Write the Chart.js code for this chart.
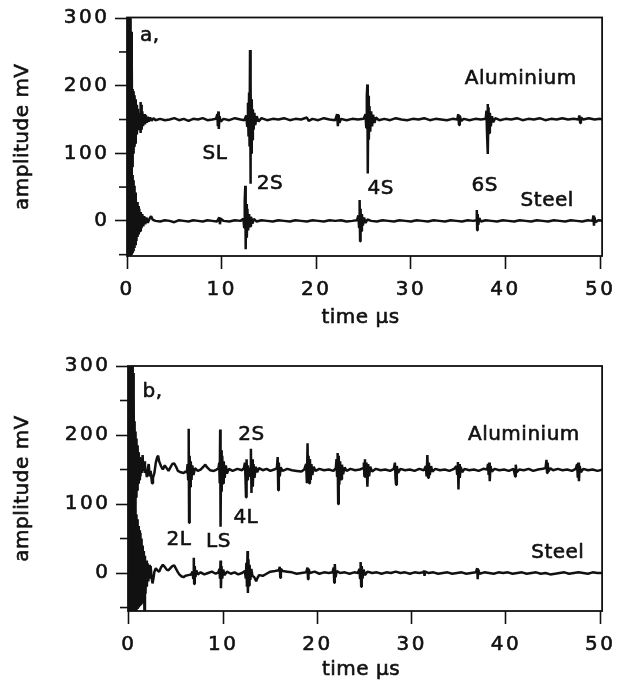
<!DOCTYPE html>
<html>
<head>
<meta charset="utf-8">
<script src="https://cdn.jsdelivr.net/npm/chart.js@4.4.1/dist/chart.umd.min.js"></script>
<style>
  body { margin: 0; background: #fff; }
  #wrap { position: relative; width: 622px; height: 689px; }
  canvas { position: absolute; left: 0; }
</style>
</head>
<body>
<div id="wrap">
  <canvas id="chartA" width="622" height="330" style="top:0"></canvas>
  <canvas id="chartB" width="622" height="359" style="top:330px"></canvas>
</div>
<script>
// [time µs, amplitude mV]
// panel a
const alA = [[0,150],[0.04,320],[0.08,-60],[0.12,330],[0.16,-60],[0.2,320],[0.24,-55],[0.28,310],[0.32,-30],[0.36,300],[0.4,10],[0.44,280],[0.48,50],[0.52,240],[0.56,80],[0.6,195],[0.65,100],[0.7,192],[0.75,110],[0.8,186],[0.85,115],[0.9,180],[0.95,122],[1.0,172],[1.05,128],[1.1,166],[1.15,134],[1.2,160],[1.25,140],[1.3,158],[1.38,142],[1.42,176],[1.46,130],[1.5,172],[1.55,135],[1.62,162],[1.7,140],[1.8,158],[1.9,143],[2.0,156],[2.1,145],[2.2,154],[2.3,147],[2.45,153],[2.6,148],[2.8,152],[3.0,149],[3.5,151],[4.0,149],[4.5,150],[5.0,152],[5.5,149],[6.0,151],[6.5,148],[7.0,151],[7.5,150],[8.0,152],[8.5,149],[9.0,150],[9.4,151],[9.55,158],[9.6,140],[9.65,162],[9.7,136],[9.78,155],[9.9,147],[10.2,151],[10.8,149],[11.4,152],[12.0,150],[12.4,149],[12.6,156],[12.7,140],[12.78,175],[12.84,125],[12.9,190],[12.95,110],[13.0,253],[13.04,55],[13.08,200],[13.12,100],[13.18,180],[13.24,120],[13.3,165],[13.38,135],[13.46,160],[13.55,142],[13.7,155],[13.9,147],[14.2,152],[14.8,149],[15.4,151],[16.0,150],[16.6,152],[17.2,149],[17.8,151],[18.4,150],[19.0,153],[19.2,148],[19.6,151],[20.2,149],[20.8,152],[21.4,150],[22.0,149],[22.2,158],[22.28,140],[22.36,157],[22.45,145],[22.6,151],[23.2,149],[23.8,151],[24.4,150],[25.0,151],[25.2,158],[25.28,138],[25.34,185],[25.4,202],[25.44,70],[25.5,185],[25.55,120],[25.62,170],[25.7,132],[25.8,162],[25.9,140],[26.0,157],[26.15,145],[26.3,153],[26.6,149],[27.2,151],[27.8,149],[28.4,152],[29.0,150],[29.6,149],[30.2,151],[30.8,150],[31.4,152],[32.0,149],[32.6,151],[33.2,150],[33.8,149],[34.4,151],[34.9,150],[35.0,158],[35.08,142],[35.16,156],[35.3,148],[35.6,151],[36.2,149],[36.8,151],[37.4,150],[37.9,151],[37.98,163],[38.04,130],[38.1,173],[38.14,99],[38.2,168],[38.26,130],[38.34,160],[38.44,140],[38.56,155],[38.7,146],[38.9,152],[39.4,149],[40.0,151],[40.6,150],[41.2,152],[41.8,149],[42.4,151],[43.0,150],[43.6,152],[44.2,149],[44.8,151],[45.4,150],[46.0,152],[46.6,150],[47.2,151],[47.7,150],[47.8,156],[47.88,145],[47.96,153],[48.2,150],[48.8,152],[49.4,150],[50.0,151],[50.3,150]];
const stA = [[0,0],[0.02,-60],[0.06,320],[0.1,-60],[0.14,300],[0.18,-60],[0.22,250],[0.26,-60],[0.3,160],[0.34,-60],[0.38,90],[0.42,-55],[0.46,75],[0.5,-50],[0.55,68],[0.6,-48],[0.65,60],[0.7,-45],[0.75,52],[0.8,-40],[0.85,42],[0.9,-36],[0.95,35],[1.0,-30],[1.06,28],[1.12,-24],[1.18,22],[1.24,-20],[1.3,18],[1.38,-15],[1.46,13],[1.54,-11],[1.62,10],[1.72,-8],[1.82,7],[1.92,-5],[2.05,5],[2.2,-3],[2.4,4],[2.55,7],[2.7,2],[3.0,0],[3.5,-1],[4.0,1],[4.5,0],[5.0,-2],[5.5,1],[6.0,0],[6.5,-1],[7.0,1],[7.5,0],[8.0,-1],[8.5,1],[9.0,0],[9.5,-1],[9.75,5],[9.82,-5],[9.9,3],[10.2,0],[10.8,-1],[11.4,1],[12.0,0],[12.3,3],[12.38,-10],[12.44,30],[12.5,52],[12.54,-42],[12.6,25],[12.66,-25],[12.72,18],[12.8,-14],[12.9,10],[13.0,-8],[13.1,6],[13.25,-4],[13.4,3],[13.7,-1],[14.2,1],[14.8,0],[15.4,-1],[16.0,1],[16.6,0],[17.2,-1],[17.8,1],[18.4,0],[19.0,-1],[19.6,1],[20.2,0],[20.8,-1],[21.4,1],[22.0,0],[22.6,1],[23.2,-1],[23.8,0],[24.3,1],[24.45,8],[24.52,-10],[24.58,31],[24.63,-30],[24.68,18],[24.74,-15],[24.82,10],[24.92,-7],[25.05,5],[25.2,-3],[25.4,2],[25.8,0],[26.4,-1],[27.0,1],[27.6,0],[28.2,-1],[28.8,1],[29.4,0],[30.0,-1],[30.6,1],[31.2,0],[31.8,-1],[32.4,1],[33.0,0],[33.6,-1],[34.2,1],[34.8,0],[35.4,-1],[36.0,1],[36.6,0],[36.9,1],[36.96,16],[37.0,-14],[37.05,10],[37.12,-6],[37.22,4],[37.4,-1],[37.9,1],[38.5,0],[39.1,-1],[39.7,1],[40.3,0],[40.9,-1],[41.5,1],[42.1,0],[42.7,-1],[43.3,1],[43.9,0],[44.5,-1],[45.1,1],[45.7,0],[46.3,-1],[46.9,1],[47.5,0],[48.1,-1],[48.7,1],[49.2,0],[49.28,8],[49.34,-7],[49.4,5],[49.5,-2],[49.8,1],[50.3,0]];
// panel b
const alB = [[0,150],[0.04,320],[0.08,-60],[0.12,330],[0.16,-60],[0.2,320],[0.24,-60],[0.28,320],[0.32,-40],[0.36,310],[0.4,0],[0.44,290],[0.48,40],[0.52,260],[0.56,70],[0.6,220],[0.65,90],[0.7,205],[0.75,110],[0.8,195],[0.86,120],[0.92,185],[0.98,130],[1.04,175],[1.1,135],[1.16,168],[1.22,140],[1.3,162],[1.38,145],[1.45,171],[1.52,148],[1.6,162],[1.7,145],[1.8,150],[1.9,139],[2.0,152],[2.1,158],[2.2,140],[2.3,148],[2.45,130],[2.55,138],[2.7,145],[2.85,160],[3.0,168],[3.1,170],[3.2,162],[3.4,155],[3.6,150],[3.8,156],[4.0,152],[4.2,148],[4.4,153],[4.6,158],[4.8,159],[5.0,154],[5.2,148],[5.5,146],[5.8,145],[6.0,147],[6.15,146],[6.22,158],[6.28,135],[6.34,209],[6.38,73],[6.44,170],[6.5,125],[6.56,162],[6.64,135],[6.72,156],[6.85,142],[7.0,152],[7.3,148],[7.6,150],[7.9,154],[8.1,157],[8.3,153],[8.6,149],[9.0,148],[9.3,150],[9.5,152],[9.58,160],[9.63,130],[9.68,208],[9.72,67],[9.78,178],[9.84,118],[9.9,170],[9.98,130],[10.06,162],[10.16,138],[10.28,156],[10.4,144],[10.6,151],[11.0,148],[11.5,151],[12.0,149],[12.2,152],[12.3,160],[12.36,140],[12.42,110],[12.48,165],[12.55,135],[12.62,156],[12.7,145],[12.8,152],[12.88,140],[12.94,180],[13.0,116],[13.06,165],[13.14,125],[13.22,158],[13.32,138],[13.45,154],[13.6,146],[13.8,152],[14.2,149],[14.6,151],[15.0,148],[15.4,150],[15.7,152],[15.78,168],[15.84,120],[15.9,160],[16.0,140],[16.1,153],[16.3,148],[16.8,151],[17.3,149],[17.8,148],[18.3,147],[18.6,150],[18.8,158],[18.88,130],[18.95,188],[19.0,132],[19.06,170],[19.12,130],[19.2,165],[19.28,135],[19.36,158],[19.46,142],[19.6,154],[19.8,148],[20.2,151],[20.7,149],[21.2,150],[21.7,148],[21.95,152],[22.02,165],[22.08,140],[22.14,174],[22.2,100],[22.26,170],[22.32,128],[22.4,162],[22.5,136],[22.6,157],[22.72,143],[22.88,153],[23.1,148],[23.5,151],[24.0,149],[24.5,150],[24.85,152],[24.92,160],[24.98,140],[25.04,165],[25.1,138],[25.2,160],[25.3,125],[25.38,158],[25.48,140],[25.6,154],[25.8,147],[26.2,151],[26.7,149],[27.2,150],[27.7,148],[28.1,151],[28.22,160],[28.28,138],[28.34,128],[28.42,155],[28.55,145],[28.8,151],[29.3,149],[29.8,150],[30.3,148],[30.8,151],[31.3,149],[31.5,155],[31.58,140],[31.66,171],[31.74,138],[31.82,160],[31.92,142],[32.05,155],[32.2,147],[32.5,151],[33.0,149],[33.5,150],[34.0,148],[34.5,151],[34.75,155],[34.82,143],[34.9,161],[34.96,121],[35.02,158],[35.1,138],[35.2,154],[35.35,146],[35.6,151],[36.1,149],[36.6,150],[37.1,148],[37.6,151],[38.0,150],[38.1,158],[38.16,142],[38.22,160],[38.28,133],[38.36,155],[38.5,147],[38.8,151],[39.3,149],[39.8,150],[40.3,148],[40.8,151],[40.98,140],[41.04,157],[41.12,146],[41.4,150],[41.9,149],[42.4,151],[42.9,148],[43.4,150],[43.9,151],[44.2,152],[44.3,164],[44.36,145],[44.42,160],[44.5,147],[44.7,152],[45.0,149],[45.5,151],[46.0,149],[46.5,150],[47.0,148],[47.4,151],[47.55,158],[47.62,138],[47.68,160],[47.74,133],[47.82,155],[47.95,146],[48.2,151],[48.7,149],[49.2,150],[49.7,148],[50.3,150]];
const stB = [[0,0],[0.02,-60],[0.06,320],[0.1,-60],[0.14,320],[0.18,-60],[0.22,300],[0.26,-60],[0.3,220],[0.34,-60],[0.38,150],[0.42,-60],[0.46,110],[0.5,-60],[0.55,95],[0.6,-58],[0.65,90],[0.7,-55],[0.75,85],[0.8,-55],[0.86,78],[0.92,-52],[0.98,68],[1.04,-50],[1.1,62],[1.16,-48],[1.22,58],[1.28,-45],[1.34,50],[1.4,-42],[1.46,40],[1.52,-38],[1.58,32],[1.64,-55],[1.7,25],[1.76,-30],[1.82,18],[1.9,-20],[1.98,14],[2.06,-12],[2.14,12],[2.22,-8],[2.3,10],[2.4,-6],[2.5,-15],[2.6,-8],[2.7,2],[2.85,7],[3.0,4],[3.2,2],[3.4,8],[3.6,12],[3.8,9],[4.0,5],[4.2,4],[4.4,7],[4.6,10],[4.8,11],[5.0,6],[5.2,1],[5.4,-3],[5.6,-5],[5.8,-6],[6.0,-4],[6.3,-3],[6.6,-2],[6.75,2],[6.82,-8],[6.88,22],[6.92,-16],[6.98,10],[7.06,-6],[7.15,4],[7.3,-2],[7.6,1],[8.0,-2],[8.4,0],[8.8,2],[9.2,-1],[9.5,1],[9.6,6],[9.66,-8],[9.72,18],[9.76,-22],[9.82,10],[9.9,-8],[10.0,5],[10.15,-3],[10.4,2],[10.8,-1],[11.2,1],[11.6,-2],[12.0,0],[12.3,3],[12.4,-8],[12.46,15],[12.52,-20],[12.58,32],[12.62,-29],[12.68,20],[12.74,-18],[12.8,12],[12.88,-10],[12.98,6],[13.1,-4],[13.3,-6],[13.5,-12],[13.6,-8],[13.8,-3],[14.2,-4],[14.6,-1],[15.0,2],[15.5,3],[15.9,4],[16.0,9],[16.06,-7],[16.12,6],[16.3,3],[16.8,2],[17.3,1],[17.8,-1],[18.3,0],[18.8,1],[18.95,8],[19.0,-9],[19.05,6],[19.2,0],[19.7,2],[20.2,-1],[20.7,1],[21.2,0],[21.6,1],[21.72,8],[21.78,-14],[21.84,13],[21.92,-6],[22.05,3],[22.4,0],[22.9,1],[23.4,-1],[23.9,1],[24.3,0],[24.45,6],[24.52,-8],[24.58,16],[24.64,-20],[24.7,10],[24.78,-8],[24.9,5],[25.05,-3],[25.3,2],[25.8,0],[26.3,1],[26.8,-1],[27.3,1],[27.8,0],[28.3,2],[28.8,0],[29.3,1],[29.8,-1],[30.3,1],[30.8,0],[31.2,1],[31.3,4],[31.36,-4],[31.44,2],[31.8,0],[32.3,1],[32.8,-1],[33.3,0],[33.8,1],[34.3,-1],[34.8,0],[35.3,1],[35.8,-1],[36.3,0],[36.8,1],[36.95,7],[37.0,-9],[37.06,5],[37.2,-1],[37.7,1],[38.2,0],[38.7,-1],[39.2,1],[39.7,0],[40.2,1],[40.7,-1],[41.2,0],[41.7,1],[42.2,-1],[42.7,0],[43.2,1],[43.7,-1],[44.2,0],[44.7,-2],[45.2,-1],[45.7,0],[46.2,1],[46.7,-1],[47.2,0],[47.7,1],[48.2,0],[48.7,-1],[49.2,1],[49.7,0],[50.3,0]];

const xTicks = [0, 10, 20, 30, 40, 50];
const yMajor = [0, 100, 200, 300];
const yMinor = [-50, 50, 150, 250];

// [text, time, amplitude]
const notesA = [["a,", 2.4, 274], ["SL", 9.3, 99], ["2S", 15.1, 55], ["4S", 26.8, 48], ["6S", 37.8, 52], ["Aluminium", 41.6, 210], ["Steel", 44.4, 29]];
const notesB = [["b,", 2.5, 262], ["2S", 13.0, 200], ["4L", 12.4, 80], ["LS", 9.5, 45], ["2L", 5.3, 48], ["Aluminium", 41.9, 200], ["Steel", 45.5, 30]];

const FONT = '"DejaVu Sans", "Liberation Sans", sans-serif';
const INK = "#111";

function frame(notes, titleGap) {
  return {
    id: "frame",
    beforeDraw(chart) {
      chart.ctx.letterSpacing = "2.5px"; // wide tick numbers
    },
    afterDraw(chart) {
      const ctx = chart.ctx, a = chart.chartArea;
      const x = chart.scales.x, y = chart.scales.y;
      ctx.save();
      ctx.letterSpacing = "0.5px";
      ctx.strokeStyle = INK;
      ctx.lineWidth = 1.8;
      ctx.strokeRect(a.left, a.top, a.right - a.left, a.bottom - a.top);
      // minor ticks
      ctx.lineWidth = 1.6;
      yMinor.forEach(function (v) {
        const py = y.getPixelForValue(v);
        ctx.beginPath();
        ctx.moveTo(a.left - 8, py);
        ctx.lineTo(a.left, py);
        ctx.stroke();
      });
      ctx.fillStyle = INK;
      ctx.lineWidth = 0.6;
      ctx.font = "20px " + FONT;
      ctx.textAlign = "center";
      ctx.textBaseline = "middle";
      const put = function (t, px, py) { ctx.fillText(t, px, py); ctx.strokeText(t, px, py); };
      notes.forEach(function (n) {
        put(n[0], x.getPixelForValue(n[1]), y.getPixelForValue(n[2]));
      });
      put("time \u00b5s", (a.left + a.right) / 2 - 4, a.bottom + titleGap);
      ctx.translate(23, (a.top + a.bottom) / 2);
      ctx.rotate(-Math.PI / 2);
      put("amplitude mV", 0, 0);
      ctx.restore();
    },
  };
}

function makeChart(id, al, st, notes, o) {
  const toXY = function (p) { return { x: p[0], y: p[1] }; };
  const tickFont = { family: FONT, size: 20 };
  return new Chart(document.getElementById(id), {
    type: "line",
    data: {
      datasets: [
        { label: "Aluminium", data: al.map(toXY) },
        { label: "Steel", data: st.map(toXY) },
      ],
    },
    options: {
      responsive: false,
      animation: false,
      events: [],
      layout: { padding: { left: 0, right: o.padRight, top: o.padTop, bottom: 0 } },
      plugins: { legend: { display: false }, tooltip: { enabled: false } },
      elements: {
        point: { radius: 0 },
        line: { borderColor: INK, borderWidth: 2.5, tension: 0, borderJoinStyle: "bevel" },
      },
      scales: {
        x: {
          type: "linear",
          min: o.xmin,
          max: 50.2,
          afterBuildTicks: function (s) { s.ticks = xTicks.map(function (v) { return { value: v }; }); },
          afterFit: function (s) { s.height = o.xHeight; },
          border: { display: false },
          grid: { drawOnChartArea: false, tickLength: 13, tickWidth: 1.6, tickColor: INK },
          ticks: { color: INK, font: tickFont, padding: 9, maxRotation: 0, autoSkip: false, textStrokeColor: INK, textStrokeWidth: 0.6 },
        },
        y: {
          type: "linear",
          min: o.ymin,
          max: o.ymax,
          afterBuildTicks: function (s) { s.ticks = yMajor.map(function (v) { return { value: v }; }); },
          afterFit: function (s) { s.width = o.yWidth; },
          border: { display: false },
          grid: { drawOnChartArea: false, tickLength: 12, tickWidth: 1.6, tickColor: INK },
          ticks: { color: INK, font: tickFont, padding: 5.5, textStrokeColor: INK, textStrokeWidth: 0.6 },
        },
      },
    },
    plugins: [frame(notes, o.titleGap)],
  });
}

makeChart("chartA", alA, stA, notesA, { xmin: 0, ymin: -52, ymax: 301, padTop: 14, padRight: 16, yWidth: 127, xHeight: 74, titleGap: 62 });
makeChart("chartB", alB, stB, notesB, { xmin: -0.1, ymin: -55, ymax: 300, padTop: 36, padRight: 14, yWidth: 128, xHeight: 78, titleGap: 59 });
</script>
</body>
</html>
